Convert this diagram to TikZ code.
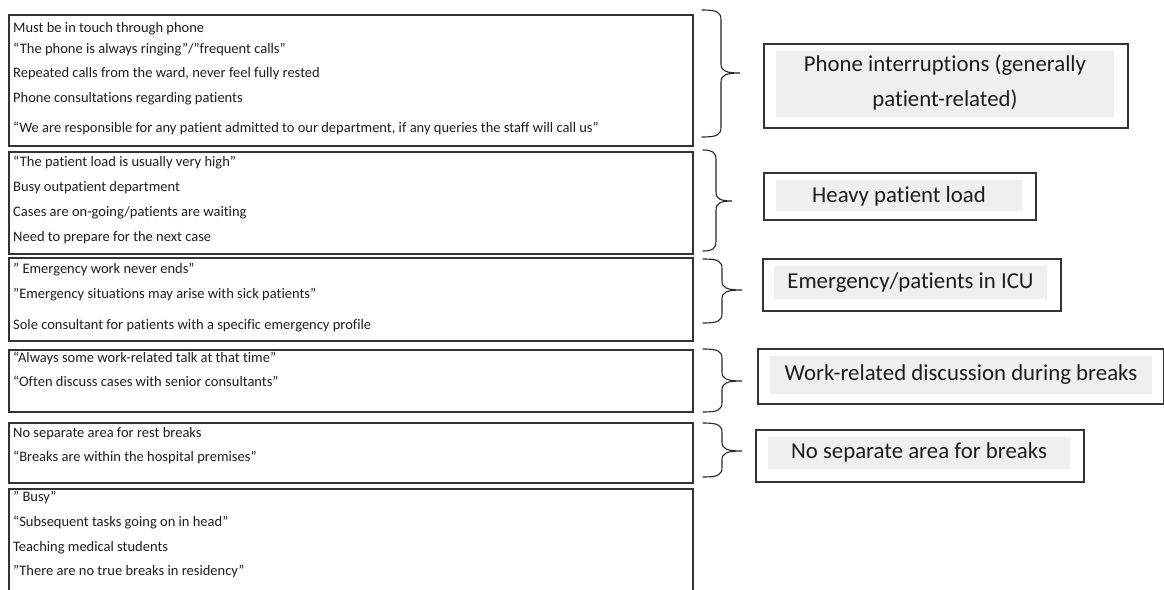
\documentclass[tikz,border=0pt]{standalone}
\usepackage{fontspec}
\setmainfont{Carlito}[Ligatures=NoCommon]
\definecolor{bordergray}{HTML}{333333}
\definecolor{fillgray}{HTML}{EFEFEF}
\definecolor{txt}{HTML}{1E1E1E}
\newcommand\mybrace[6]{%
  \draw[bracestyle] (#1,#4) .. controls (#2-4,#4) and (#2,#4+2) .. (#2,#4+10)
    -- (#2,#5-9) .. controls (#2,#5-2) and (#2+5,#5) .. (#3,#5)
    .. controls (#2+5,#5) and (#2,#5+2) .. (#2,#5+9)
    -- (#2,#6-10) .. controls (#2,#6-2) and (#2-4,#6) .. (#1,#6);}
\tikzset{
  leftbox/.style={draw=bordergray, line width=2pt, inner sep=0, minimum width=684pt, anchor=north west},
  ltxt/.style={anchor=mid west, font=\fontsize{14.5}{16}\selectfont, text=txt, inner sep=0, yshift=-3.5pt},
  rbox/.style={draw=bordergray, line width=1.5pt, fill=white, inner sep=0, anchor=north west},
  gbox/.style={fill=fillgray, inner sep=0, anchor=north west},
  rtxt/.style={font=\fontsize{22.8}{27}\selectfont, text=txt, anchor=base, inner sep=0},
  bracestyle/.style={line width=1.1pt, draw=black!85, line cap=round}
}
\begin{document}
\begin{tikzpicture}[x=1pt,y=-1pt]
\clip (0,0) rectangle (1164,589);
\fill[white] (0,0) rectangle (1164,589);

% left boxes
\node[leftbox, minimum height=131pt] (L1) at (8,14) {};
\node[leftbox, minimum height=102pt] (L2) at (8,151) {};
\node[leftbox, minimum height=83pt]  (L3) at (8,257) {};
\node[leftbox, minimum height=62pt]  (L4) at (8,349) {};
\node[leftbox, minimum height=60pt]  (L5) at (8,422) {};
\node[leftbox, minimum height=140pt] (L6) at (8,488) {};

% texts box 1
\node[ltxt] (t11) at (13,27) {Must be in touch through phone};
\node[ltxt] (t12) at (13,48) {“The phone is always ringing”/”frequent calls”};
\node[ltxt] (t13) at (13,72) {Repeated calls from the ward, never feel fully rested};
\node[ltxt] (t14) at (13,97) {Phone consultations regarding patients};
\node[ltxt] (t15) at (13,127) {“We are responsible for any patient admitted to our department, if any queries the staff will call us”};
% box 2
\node[ltxt] (t21) at (13,161) {“The patient load is usually very high”};
\node[ltxt] (t22) at (13,186) {Busy outpatient department};
\node[ltxt] (t23) at (13,211) {Cases are on-going/patients are waiting};
\node[ltxt] (t24) at (13,236) {Need to prepare for the next case};
% box 3
\node[ltxt] (t31) at (13,268) {” Emergency work never ends”};
\node[ltxt] (t32) at (13,293) {”Emergency situations may arise with sick patients”};
\node[ltxt] (t33) at (13,324) {Sole consultant for patients with a specific emergency profile};
% box 4
\node[ltxt] (t41) at (13,357) {“Always some work-related talk at that time”};
\node[ltxt] (t42) at (13,381) {“Often discuss cases with senior consultants”};
% box 5
\node[ltxt] (t51) at (13,432) {No separate area for rest breaks};
\node[ltxt] (t52) at (13,456) {“Breaks are within the hospital premises”};
% box 6
\node[ltxt] (t61) at (13,496) {” Busy”};
\node[ltxt] (t62) at (13,521) {“Subsequent tasks going on in head”};
\node[ltxt] (t63) at (13,546) {Teaching medical students};
\node[ltxt] (t64) at (13,570) {”There are no true breaks in residency”};

% braces
\mybrace{702}{721}{740}{10}{73}{137}
\mybrace{703}{716}{732}{150}{201}{251}
\mybrace{703}{722}{742}{259}{290}{323}
\mybrace{703}{722}{742}{349}{381}{412}
\mybrace{703}{722}{742}{423}{451}{477}

% right boxes
\node[rbox, minimum width=364pt, minimum height=84pt] (R1) at (763,43) {};
\node[gbox, minimum width=338pt, minimum height=66pt] (G1) at (776,51) {};
\node[rtxt] (r1a) at (945,71) {Phone interruptions (generally};
\node[rtxt] (r1b) at (945,106) {patient-related)};

\node[rbox, minimum width=272pt, minimum height=47pt] (R2) at (763,172) {};
\node[gbox, minimum width=246pt, minimum height=31pt] (G2) at (776,180) {};
\node[rtxt] (r2) at (899,202.7) {Heavy patient load};

\node[rbox, minimum width=298pt, minimum height=52pt] (R3) at (762,258) {};
\node[gbox, minimum width=273pt, minimum height=33pt] (G3) at (774,266) {};
\node[rtxt] (r3) at (910.5,288) {Emergency/patients in ICU};

\node[rbox, minimum width=406pt, minimum height=55pt] (R4) at (757,348) {};
\node[gbox, minimum width=382pt, minimum height=38pt] (G4) at (770,356) {};
\node[rtxt] (r4) at (961,380) {Work-related discussion during breaks};

\node[rbox, minimum width=328pt, minimum height=52pt] (R5) at (755,429) {};
\node[gbox, minimum width=302pt, minimum height=32pt] (G5) at (768,437) {};
\node[rtxt] (r5) at (919,458) {No separate area for breaks};
\end{tikzpicture}
\end{document}
